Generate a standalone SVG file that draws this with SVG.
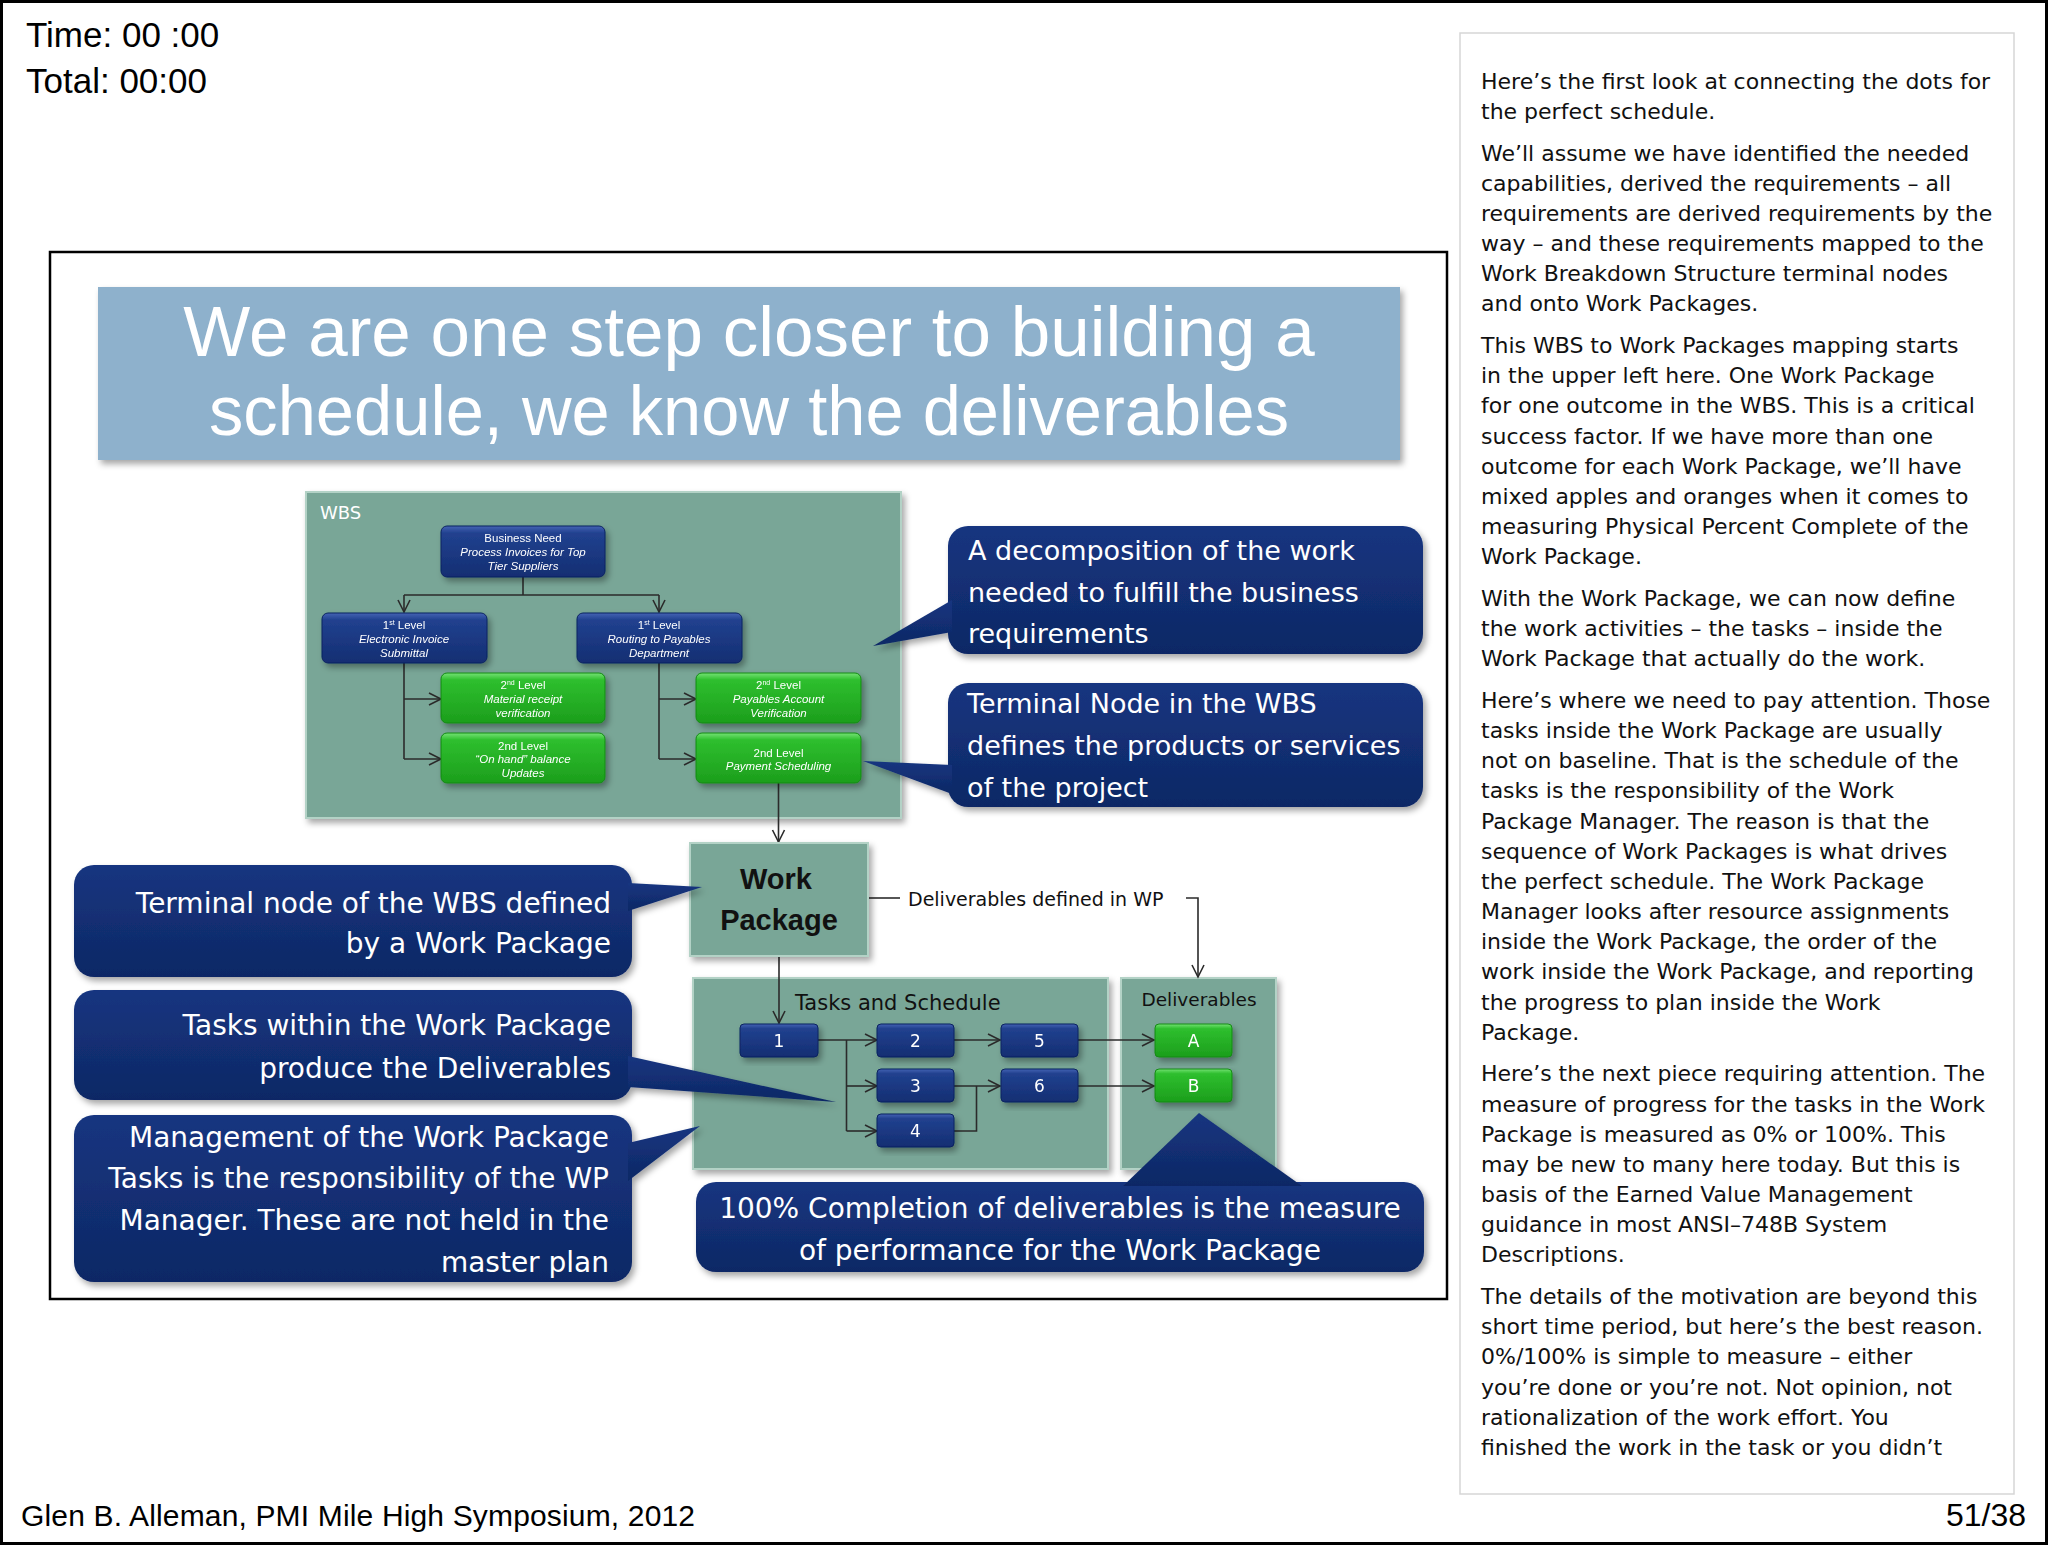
<svg xmlns="http://www.w3.org/2000/svg" width="2048" height="1545" viewBox="0 0 2048 1545">
<defs>
<style>
.ui{font-family:"Liberation Sans",Arial,sans-serif;fill:#000}
.fut{font-family:"DejaVu Sans","Noto Sans",sans-serif}
.cal{fill:url(#gNavy)}
.calt{font-family:"DejaVu Sans","Noto Sans",sans-serif;font-size:27px;fill:#fff}
.call{font-family:"DejaVu Sans","Noto Sans",sans-serif;font-size:28px;fill:#fff;text-anchor:end}
.panel{fill:#79a697;stroke:#b3d2c6;stroke-width:2}
.wb{fill:url(#gBlue);stroke:#0c2360;stroke-width:1}
.wg{fill:url(#gGreen);stroke:#138a13;stroke-width:1}
.wt{font-family:"Liberation Sans",Arial,sans-serif;font-size:11.5px;fill:#fff;text-anchor:middle}
.it{font-style:italic}
.tk{fill:url(#gBlue);stroke:#0c2360;stroke-width:1}
.tn{font-family:"DejaVu Sans","Noto Sans",sans-serif;font-size:17px;fill:#fff;text-anchor:middle}
.ln{fill:none;stroke:#2b2b2b;stroke-width:1.6}
.ar{marker-end:url(#arr)}
.note{font-family:"DejaVu Sans","Noto Sans",sans-serif;font-size:22px;fill:#111}
</style>
<linearGradient id="gBlue" x1="0" y1="0" x2="0" y2="1">
<stop offset="0" stop-color="#4464b4"/><stop offset="0.14" stop-color="#21418f"/><stop offset="1" stop-color="#142e72"/>
</linearGradient>
<linearGradient id="gGreen" x1="0" y1="0" x2="0" y2="1">
<stop offset="0" stop-color="#74e274"/><stop offset="0.14" stop-color="#2ebf2e"/><stop offset="1" stop-color="#1c9e1c"/>
</linearGradient>
<linearGradient id="gNavy" x1="0" y1="0" x2="0" y2="1">
<stop offset="0" stop-color="#163580"/><stop offset="1" stop-color="#0e2865"/>
</linearGradient>
<filter id="sh" x="-10%" y="-10%" width="125%" height="135%">
<feDropShadow dx="3" dy="4" stdDeviation="3" flood-color="#000" flood-opacity="0.35"/>
</filter>
<marker id="arr" markerUnits="userSpaceOnUse" markerWidth="16" markerHeight="16" refX="13" refY="7" orient="auto">
<path d="M1,1 L13,7 L1,13" fill="none" stroke="#2b2b2b" stroke-width="1.6"/>
</marker>
</defs>

<rect x="0" y="0" width="2048" height="1545" fill="#fff"/>
<rect x="1.5" y="1.5" width="2045" height="1542" fill="none" stroke="#000" stroke-width="3"/>

<g id="header">
<text class="ui" x="26" y="47" font-size="35">Time: 00 :00</text>
<text class="ui" x="26" y="93" font-size="35">Total: 00:00</text>
</g>

<g id="footer">
<text class="ui" x="21" y="1526" font-size="30" textLength="674" lengthAdjust="spacing">Glen B. Alleman, PMI Mile High Symposium, 2012</text>
<text class="ui" x="2026" y="1526" font-size="32" text-anchor="end">51/38</text>
</g>

<g id="notes">
<rect x="1460" y="33" width="554" height="1461" fill="#fff" stroke="#d6d6d6" stroke-width="1.5"/>
<text class="note" transform="translate(0,2.5)">
<tspan x="1481" y="86">Here’s the first look at connecting the dots for</tspan>
<tspan x="1481" y="116.2">the perfect schedule.</tspan>
<tspan x="1481" y="158">We’ll assume we have identified the needed</tspan>
<tspan x="1481" y="188.1">capabilities, derived the requirements – all</tspan>
<tspan x="1481" y="218.3">requirements are derived requirements by the</tspan>
<tspan x="1481" y="248.4">way – and these requirements mapped to the</tspan>
<tspan x="1481" y="278.6">Work Breakdown Structure terminal nodes</tspan>
<tspan x="1481" y="308.7">and onto Work Packages.</tspan>
<tspan x="1481" y="350.5">This WBS to Work Packages mapping starts</tspan>
<tspan x="1481" y="380.7">in the upper left here. One Work Package</tspan>
<tspan x="1481" y="410.8">for one outcome in the WBS. This is a critical</tspan>
<tspan x="1481" y="441">success factor. If we have more than one</tspan>
<tspan x="1481" y="471.1">outcome for each Work Package, we’ll have</tspan>
<tspan x="1481" y="501.3">mixed apples and oranges when it comes to</tspan>
<tspan x="1481" y="531.4">measuring Physical Percent Complete of the</tspan>
<tspan x="1481" y="561.6">Work Package.</tspan>
<tspan x="1481" y="603.4">With the Work Package, we can now define</tspan>
<tspan x="1481" y="633.5">the work activities – the tasks – inside the</tspan>
<tspan x="1481" y="663.7">Work Package that actually do the work.</tspan>
<tspan x="1481" y="705.5">Here’s where we need to pay attention. Those</tspan>
<tspan x="1481" y="735.6">tasks inside the Work Package are usually</tspan>
<tspan x="1481" y="765.8">not on baseline. That is the schedule of the</tspan>
<tspan x="1481" y="795.9">tasks is the responsibility of the Work</tspan>
<tspan x="1481" y="826.1">Package Manager. The reason is that the</tspan>
<tspan x="1481" y="856.2">sequence of Work Packages is what drives</tspan>
<tspan x="1481" y="886.4">the perfect schedule. The Work Package</tspan>
<tspan x="1481" y="916.5">Manager looks after resource assignments</tspan>
<tspan x="1481" y="946.7">inside the Work Package, the order of the</tspan>
<tspan x="1481" y="976.8">work inside the Work Package, and reporting</tspan>
<tspan x="1481" y="1007">the progress to plan inside the Work</tspan>
<tspan x="1481" y="1037.1">Package.</tspan>
<tspan x="1481" y="1078.9">Here’s the next piece requiring attention. The</tspan>
<tspan x="1481" y="1109.1">measure of progress for the tasks in the Work</tspan>
<tspan x="1481" y="1139.2">Package is measured as 0% or 100%. This</tspan>
<tspan x="1481" y="1169.4">may be new to many here today. But this is</tspan>
<tspan x="1481" y="1199.5">basis of the Earned Value Management</tspan>
<tspan x="1481" y="1229.7">guidance in most ANSI–748B System</tspan>
<tspan x="1481" y="1259.8">Descriptions.</tspan>
<tspan x="1481" y="1301.6">The details of the motivation are beyond this</tspan>
<tspan x="1481" y="1331.8">short time period, but here’s the best reason.</tspan>
<tspan x="1481" y="1361.9">0%/100% is simple to measure – either</tspan>
<tspan x="1481" y="1392.1">you’re done or you’re not. Not opinion, not</tspan>
<tspan x="1481" y="1422.2">rationalization of the work effort. You</tspan>
<tspan x="1481" y="1452.4">finished the work in the task or you didn’t</tspan>
</text>
</g>

<rect id="slide-frame" x="50" y="252" width="1397" height="1047" fill="none" stroke="#000" stroke-width="2.5"/>

<g id="title">
<rect x="98" y="287" width="1302" height="173" fill="#8eb1cc" filter="url(#sh)"/>
<text class="ui" x="749" y="356" font-size="71" style="fill:#fff" text-anchor="middle">We are one step closer to building a</text>
<text class="ui" x="749" y="435" font-size="71" style="fill:#fff" text-anchor="middle" textLength="1080" lengthAdjust="spacingAndGlyphs">schedule, we know the deliverables</text>
</g>

<g id="wbs-panel">
<rect class="panel" x="306" y="492" width="595" height="326" filter="url(#sh)"/>
<text class="fut" x="320" y="519" font-size="18" fill="#fff">WBS</text>
</g>

<g id="tasks-panel">
<rect class="panel" x="693" y="978" width="415" height="191" filter="url(#sh)"/>
<text class="fut" x="795" y="1010" font-size="21" fill="#111">Tasks and Schedule</text>
</g>

<g id="deliverables-panel">
<rect class="panel" x="1121" y="978" width="155" height="191" filter="url(#sh)"/>
<text class="fut" x="1199" y="1006" font-size="18.5" fill="#111" text-anchor="middle">Deliverables</text>
</g>

<g id="connectors">
<path class="ln" d="M523,577 V595 M404,595 H659"/>
<path class="ln ar" d="M404,595 V612"/>
<path class="ln ar" d="M659,595 V612"/>
<path class="ln" d="M404,663 V759"/>
<path class="ln ar" d="M404,699 H441"/>
<path class="ln ar" d="M404,759 H441"/>
<path class="ln" d="M659,663 V759"/>
<path class="ln ar" d="M659,699 H696"/>
<path class="ln ar" d="M659,759 H696"/>
<path class="ln ar" d="M778.5,783 V842"/>
<path class="ln" d="M868,898 H900"/>
<path class="ln ar" d="M1186,898 H1198 V977"/>
<path class="ln ar" d="M779,955 V1023"/>
<path class="ln ar" d="M818,1040 H877"/>
<path class="ln" d="M846.5,1040 V1131"/>
<path class="ln ar" d="M846.5,1086 H877"/>
<path class="ln ar" d="M846.5,1131 H877"/>
<path class="ln ar" d="M954,1040 H1000"/>
<path class="ln" d="M954,1131 H976.5 V1086"/>
<path class="ln ar" d="M954,1086 H1000"/>
<path class="ln ar" d="M1078,1040 H1154"/>
<path class="ln ar" d="M1078,1086 H1154"/>
<text class="fut" x="908" y="906" font-size="19" fill="#111">Deliverables defined in WP</text>
</g>

<g id="wbs-business-need" filter="url(#sh)">
<rect class="wb" x="441" y="526" width="164" height="51" rx="6"/>
<text class="wt" x="523" y="542">Business Need</text>
<text class="wt it" x="523" y="556">Process Invoices for Top</text>
<text class="wt it" x="523" y="570">Tier Suppliers</text>
</g>

<g id="wbs-electronic-invoice" filter="url(#sh)">
<rect class="wb" x="322" y="613" width="165" height="50" rx="6"/>
<text class="wt" x="404" y="629">1<tspan font-size="7" dy="-4">st</tspan><tspan dy="4"> Level</tspan></text>
<text class="wt it" x="404" y="643">Electronic Invoice</text>
<text class="wt it" x="404" y="657">Submittal</text>
</g>

<g id="wbs-routing" filter="url(#sh)">
<rect class="wb" x="577" y="613" width="165" height="50" rx="6"/>
<text class="wt" x="659" y="629">1<tspan font-size="7" dy="-4">st</tspan><tspan dy="4"> Level</tspan></text>
<text class="wt it" x="659" y="643">Routing to Payables</text>
<text class="wt it" x="659" y="657">Department</text>
</g>

<g id="wbs-material-receipt" filter="url(#sh)">
<rect class="wg" x="441" y="673" width="164" height="50" rx="6"/>
<text class="wt" x="523" y="689">2<tspan font-size="7" dy="-4">nd</tspan><tspan dy="4"> Level</tspan></text>
<text class="wt it" x="523" y="703">Material receipt</text>
<text class="wt it" x="523" y="717">verification</text>
</g>

<g id="wbs-on-hand" filter="url(#sh)">
<rect class="wg" x="441" y="733" width="164" height="50" rx="6"/>
<text class="wt" x="523" y="750">2nd Level</text>
<text class="wt it" x="523" y="763">“On hand” balance</text>
<text class="wt it" x="523" y="777">Updates</text>
</g>

<g id="wbs-payables-account" filter="url(#sh)">
<rect class="wg" x="696" y="673" width="165" height="50" rx="6"/>
<text class="wt" x="778.5" y="689">2<tspan font-size="7" dy="-4">nd</tspan><tspan dy="4"> Level</tspan></text>
<text class="wt it" x="778.5" y="703">Payables Account</text>
<text class="wt it" x="778.5" y="717">Verification</text>
</g>

<g id="wbs-payment-scheduling" filter="url(#sh)">
<rect class="wg" x="696" y="733" width="165" height="50" rx="6"/>
<text class="wt" x="778.5" y="757">2nd Level</text>
<text class="wt it" x="778.5" y="770">Payment Scheduling</text>
</g>

<g id="work-package">
<rect class="panel" x="690" y="843" width="178" height="113" filter="url(#sh)"/>
<text x="776" y="889" font-family="'Liberation Sans',Arial,sans-serif" font-weight="bold" font-size="29" fill="#111" text-anchor="middle">Work</text>
<text x="779" y="930" font-family="'Liberation Sans',Arial,sans-serif" font-weight="bold" font-size="29" fill="#111" text-anchor="middle">Package</text>
</g>

<g id="task-1" filter="url(#sh)"><rect class="tk" x="740" y="1024" width="78" height="33" rx="4"/><text class="tn" x="779" y="1047">1</text></g>
<g id="task-2" filter="url(#sh)"><rect class="tk" x="877" y="1024" width="77" height="33" rx="4"/><text class="tn" x="915.5" y="1047">2</text></g>
<g id="task-5" filter="url(#sh)"><rect class="tk" x="1001" y="1024" width="77" height="33" rx="4"/><text class="tn" x="1039.5" y="1047">5</text></g>
<g id="task-3" filter="url(#sh)"><rect class="tk" x="877" y="1069" width="77" height="33" rx="4"/><text class="tn" x="915.5" y="1092">3</text></g>
<g id="task-6" filter="url(#sh)"><rect class="tk" x="1001" y="1069" width="77" height="33" rx="4"/><text class="tn" x="1039.5" y="1092">6</text></g>
<g id="task-4" filter="url(#sh)"><rect class="tk" x="877" y="1114" width="77" height="33" rx="4"/><text class="tn" x="915.5" y="1137">4</text></g>
<g id="deliverable-a" filter="url(#sh)"><rect class="wg" x="1155" y="1024" width="77" height="33" rx="4"/><text class="tn" x="1193.5" y="1047">A</text></g>
<g id="deliverable-b" filter="url(#sh)"><rect class="wg" x="1155" y="1069" width="77" height="33" rx="4"/><text class="tn" x="1193.5" y="1092">B</text></g>

<g id="callout-decomposition">
<g filter="url(#sh)">
<rect class="cal" x="948" y="526" width="475" height="128" rx="20"/>
<polygon class="cal" points="952,600 873,646 952,632"/>
</g>
<text class="calt" x="968" y="560">A decomposition of the work</text>
<text class="calt" x="968" y="602">needed to fulfill the business</text>
<text class="calt" x="968" y="643">requirements</text>
</g>

<g id="callout-terminal-node">
<g filter="url(#sh)">
<rect class="cal" x="948" y="683" width="475" height="124" rx="20"/>
<polygon class="cal" points="952,765 863,761 952,794"/>
</g>
<text class="calt" x="967" y="713">Terminal Node in the WBS</text>
<text class="calt" x="967" y="755">defines the products or services</text>
<text class="calt" x="967" y="797">of the project</text>
</g>

<g id="callout-terminal-wp">
<g filter="url(#sh)">
<rect class="cal" x="74" y="865" width="558" height="112" rx="20"/>
<polygon class="cal" points="628,883 702,887 628,911"/>
</g>
<text class="call" x="611" y="913">Terminal node of the WBS defined</text>
<text class="call" x="611" y="953">by a Work Package</text>
</g>

<g id="callout-tasks">
<g filter="url(#sh)">
<rect class="cal" x="74" y="990" width="558" height="110" rx="20"/>
<polygon class="cal" points="628,1056 836,1102 628,1087"/>
</g>
<text class="call" x="611" y="1035">Tasks within the Work Package</text>
<text class="call" x="611" y="1078">produce the Deliverables</text>
</g>

<g id="callout-management">
<g filter="url(#sh)">
<rect class="cal" x="74" y="1115" width="558" height="167" rx="20"/>
<polygon class="cal" points="628,1143 700,1126 628,1181"/>
</g>
<text class="call" x="609" y="1147">Management of the Work Package</text>
<text class="call" x="609" y="1188">Tasks is the responsibility of the WP</text>
<text class="call" x="609" y="1230">Manager. These are not held in the</text>
<text class="call" x="609" y="1272">master plan</text>
</g>

<g id="callout-completion">
<g filter="url(#sh)">
<rect class="cal" x="696" y="1182" width="728" height="90" rx="20"/>
<polygon class="cal" points="1123,1186 1199,1113 1302,1186"/>
</g>
<text class="call" x="1060" y="1218" style="text-anchor:middle">100% Completion of deliverables is the measure</text>
<text class="call" x="1060" y="1260" style="text-anchor:middle">of performance for the Work Package</text>
</g>
</svg>
